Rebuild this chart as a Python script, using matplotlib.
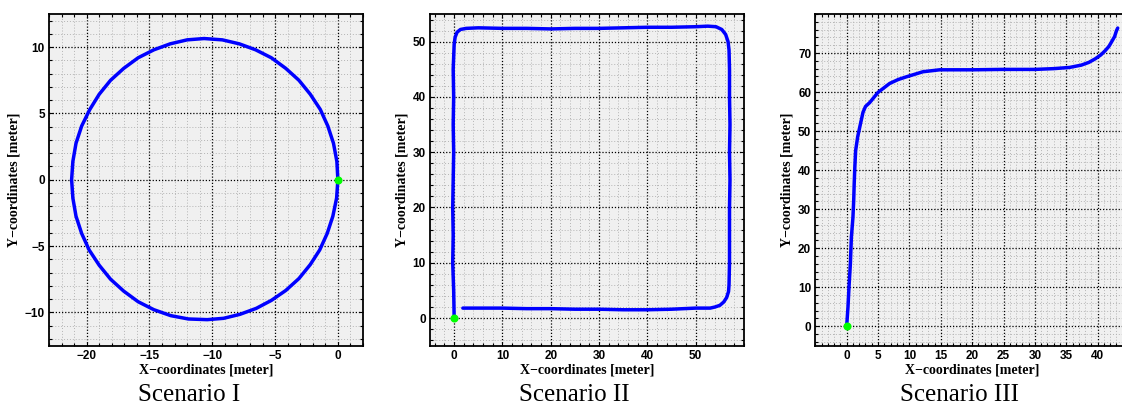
import matplotlib
matplotlib.use('Agg')
import matplotlib.pyplot as plt
from matplotlib.ticker import MultipleLocator

# Scenario I - circle (x, y in meter)
x1 = [0.0, -0.08, -0.35, -0.80, -1.40, -2.20, -3.10, -4.15, -5.30, -6.55, -7.85,
      -9.20, -10.65, -12.00, -13.35, -14.65, -15.90, -17.05, -18.10, -19.00, -19.75,
      -20.40, -20.85, -21.10, -21.20, -21.10, -20.85, -20.40, -19.80, -19.00, -18.10,
      -17.05, -15.90, -14.65, -13.30, -11.90, -10.40, -9.10, -7.80, -6.50, -5.30,
      -4.15, -3.10, -2.20, -1.45, -0.85, -0.40, -0.10, 0.0]
y1 = [0.0, 1.38, 2.75, 4.05, 5.30, 6.45, 7.50, 8.40, 9.20, 9.80, 10.25,
      10.55, 10.65, 10.55, 10.25, 9.80, 9.20, 8.40, 7.50, 6.45, 5.30,
      4.05, 2.75, 1.38, 0.0, -1.38, -2.75, -4.05, -5.30, -6.45, -7.50,
      -8.40, -9.20, -9.80, -10.25, -10.50, -10.55, -10.45, -10.15, -9.70, -9.10,
      -8.35, -7.45, -6.40, -5.30, -4.05, -2.75, -1.38, 0.0]

# Scenario II - rectangle loop
x2 = [0.0, -0.1, -0.3, -0.2, -0.3, -0.2, -0.1, -0.2, -0.1, -0.2, 0.0, 0.2, 0.6, 1.3,
      2.5, 5, 10, 15, 20, 25, 30, 35, 40, 45, 50, 52.5, 54.2, 55.4, 56.2, 56.7, 56.9,
      57.0, 57.0, 57.1, 57.0, 57.1, 57.0, 57.0, 57.0, 56.9, 56.8, 56.4, 55.8, 55.0, 54.0,
      53, 50, 45, 40, 35, 30, 25, 20, 15, 10, 5, 1.8]
y2 = [0.0, 5, 10, 15, 20, 25, 30, 35, 40, 45, 49.5, 50.8, 51.7, 52.2,
      52.4, 52.5, 52.4, 52.4, 52.3, 52.4, 52.4, 52.5, 52.6, 52.6, 52.7, 52.8, 52.7, 52.2, 51.3, 50.0, 48.5,
      45, 40, 35, 30, 25, 20, 15, 10, 6, 4.8, 3.7, 2.9, 2.3, 2.0,
      1.8, 1.8, 1.6, 1.5, 1.5, 1.6, 1.6, 1.7, 1.7, 1.8, 1.8, 1.8]

# Scenario III - curve to the right
x3 = [0.0, 0.21, 0.37, 0.59, 0.75, 1.0, 1.12, 1.2, 1.3, 1.43, 1.75, 2.07, 2.6,
      3.0, 3.67, 4.99, 6.85, 8.2, 9.51, 12.16, 14.82, 20.1, 24.7, 30.0, 33.0,
      35.5, 37.4, 38.6, 39.6, 40.5, 41.2, 41.8, 42.2, 42.7, 43.0, 43.2]
y3 = [0.0, 4.9, 10.0, 16.0, 22.8, 27.9, 32.2, 36.5, 40.7, 45.0, 48.5, 50.9, 54.8,
      56.3, 57.3, 59.9, 62.2, 63.2, 63.9, 65.2, 65.7, 65.7, 65.8, 65.8, 66.0,
      66.3, 66.9, 67.6, 68.5, 69.5, 70.6, 71.7, 72.8, 74.2, 75.7, 76.4]

xticks = [[-20, -15, -10, -5, 0], [0, 10, 20, 30, 40, 50], [0, 5, 10, 15, 20, 25, 30, 35, 40]]
yticks = [[-10, -5, 0, 5, 10], [0, 10, 20, 30, 40, 50], [0, 10, 20, 30, 40, 50, 60, 70]]

titles = ['Scenario I', 'Scenario II', 'Scenario III']
title_x = [189, 574, 960]

W, H = 1122, 407
fig = plt.figure(figsize=(W / 100, H / 100), dpi=100)

# axes boxes in pixels: left, top, right, bottom
boxes = [(49, 14, 363, 345.5), (430, 14, 744, 345.7), (815.3, 14, 1129, 345.7)]
limits = [((-23, 2), (-12.5, 12.5)), ((-5, 60), (-5, 55)), ((-5, 45), (-5, 80))]
minors = [(1, 1), (2, 2), (1, 2)]
data = [(x1, y1), (x2, y2), (x3, y3)]

for i in range(3):
    l, t, r, b = boxes[i]
    ax = fig.add_axes([l / W, (H - b) / H, (r - l) / W, (b - t) / H])
    ax.set_facecolor('#f0f0f0')
    ax.set_axisbelow(True)
    x, y = data[i]
    ax.plot(x, y, color='#0000ff', lw=2.5, solid_capstyle='round',
            solid_joinstyle='round', zorder=3)
    ax.plot(x[0], y[0], 'o', color='#00ff00', ms=4.8, zorder=4)
    ax.set_xlim(*limits[i][0])
    ax.set_ylim(*limits[i][1])
    ax.set_xticks(xticks[i])
    ax.set_yticks(yticks[i])
    ax.xaxis.set_minor_locator(MultipleLocator(minors[i][0]))
    ax.yaxis.set_minor_locator(MultipleLocator(minors[i][1]))
    ax.grid(which='minor', color='#b4b4b4', ls=(0, (1, 2)), lw=0.7)
    ax.grid(which='major', color='black', ls=(0, (1, 1.5)), lw=0.9)
    ax.tick_params(which='both', direction='in', top=True, right=True, width=0.8)
    ax.tick_params(which='major', length=3, pad=3)
    ax.tick_params(which='minor', length=2)
    for lab in ax.get_xticklabels() + ax.get_yticklabels():
        lab.set_family('Liberation Sans')
        lab.set_fontweight('bold')
        lab.set_fontsize(8.5)
    for s in ax.spines.values():
        s.set_linewidth(1.3)
    ax.set_xlabel('X\u2212coordinates [meter]', family='Liberation Serif',
                  fontweight='bold', fontsize=10, labelpad=1)
    ax.set_ylabel('Y\u2212coordinates [meter]', family='Liberation Serif',
                  fontweight='bold', fontsize=10, labelpad=3)
    fig.text(title_x[i] / W, (H - 395) / H, titles[i], family='Liberation Serif',
             fontsize=18, ha='center', va='center')

fig.savefig('out.png', dpi=100)
